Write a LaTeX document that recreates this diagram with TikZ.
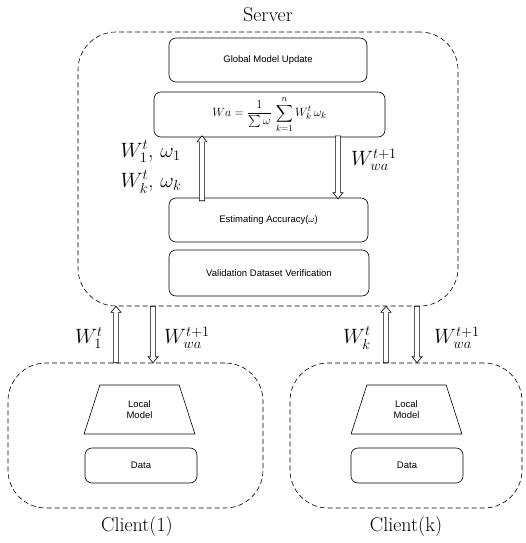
\documentclass[tikz,border=0pt]{standalone}
\usepackage{amsmath}
\usepackage{fontspec}
\setsansfont{Liberation Sans}
\usetikzlibrary{calc,shapes.geometric}
\tikzset{
  group/.style={draw, dash pattern=on 5pt off 3pt, rounded corners=38pt, line width=0.6pt, inner sep=0pt},
  box/.style={draw, rounded corners=7pt, line width=0.6pt, inner sep=0pt, align=center,
              font=\sffamily\fontsize{9.5}{11}\selectfont},
  trap/.style={draw, trapezium, trapezium left angle=74, trapezium right angle=74,
               trapezium stretches=true, line width=0.6pt, inner sep=0pt, align=center,
               font=\sffamily\fontsize{9.5}{11}\selectfont},
  hollow/.style={draw, fill=white, line width=0.6pt, line join=miter,
    to path={let \p1=(\tikztostart), \p2=(\tikztotarget), \n1={sign(\y2-\y1)} in
      (\x1-2.6pt,\y1) -- (\x1-2.6pt,{\y2-(\n1)*6pt}) -- (\x1-5pt,{\y2-(\n1)*6pt}) -- (\x1,\y2)
      -- (\x1+5pt,{\y2-(\n1)*6pt}) -- (\x1+2.6pt,{\y2-(\n1)*6pt}) -- (\x1+2.6pt,\y1) -- cycle}},
  lbl/.style={font=\fontsize{22}{24}\selectfont, inner sep=0pt, align=left},
  title/.style={font=\fontsize{20}{22}\selectfont, inner sep=0pt}
}
\begin{document}
\begin{tikzpicture}[x=1pt, y=-1pt]
\useasboundingbox (0,0) rectangle (526,543);
% groups
\node[group, minimum width=380pt, minimum height=274pt] (server) at (268,169) {};
\node[group, minimum width=255pt, minimum height=145pt] (client1) at (135.5,435.5) {};
\node[group, minimum width=232pt, minimum height=145pt] (clientk) at (406,435.5) {};
% titles
\node[title] (tserver) at (268,15) {Server};
\node[title] (tc1) at (137,527) {Client(1)};
\node[title] (tck) at (406,527) {Client(k)};
% server boxes
\node[box, minimum width=198pt, minimum height=44pt] (global) at (268,60) {Global Model Update};
\node[box, minimum width=231pt, minimum height=45pt, font=\fontsize{12.5}{14}\selectfont] (formula) at (269.5,114.5)
  {$Wa=\dfrac{1}{\sum\omega}\,\displaystyle\sum_{k=1}^{n}W_k^t\,\omega_k$};
\node[box, minimum width=199pt, minimum height=44pt] (est) at (268.5,220) {Estimating Accuracy($\omega$)};
\node[box, minimum width=200pt, minimum height=46pt] (valid) at (269,273) {Validation Dataset Verification};
% client boxes
\node[trap, minimum width=111pt, minimum height=49pt] (lm1) at (139.5,409.5) {Local\\Model};
\node[box, minimum width=112pt, minimum height=35pt] (data1) at (141,465.5) {Data};
\node[trap, minimum width=111pt, minimum height=49pt] (lmk) at (406.5,409.5) {Local\\Model};
\node[box, minimum width=112pt, minimum height=35pt] (datak) at (407,465.5) {Data};
% arrow axes
\coordinate (ax1) at (202,0);
\coordinate (ax2) at (338,0);
\coordinate (ax3) at (116,0);
\coordinate (ax4) at (153,0);
\coordinate (ax5) at (386,0);
\coordinate (ax6) at (417,0);
% arrows
\path[hollow] ([yshift=-3pt]est.north -| ax1) to ([yshift=1.5pt]formula.south -| ax1);
\path[hollow] ([yshift=1.5pt]formula.south -| ax2) to ([yshift=-1pt]est.north -| ax2);
\path[hollow] (client1.north -| ax3) to (server.south -| ax3);
\path[hollow] (server.south -| ax4) to (client1.north -| ax4);
\path[hollow] (clientk.north -| ax5) to (server.south -| ax5);
\path[hollow] (server.south -| ax6) to (clientk.north -| ax6);
% labels
\node[lbl] (l1) at (151,167) {$W_1^t$, $\omega_1$\\[6pt]$W_k^t$, $\omega_k$};
\node[lbl] (l2) at (374,160) {$W_{wa}^{t+1}$};
\node[lbl] (l3) at (89,338) {$W_1^t$};
\node[lbl] (l4) at (187,338) {$W_{wa}^{t+1}$};
\node[lbl] (l5) at (357,338) {$W_k^t$};
\node[lbl] (l6) at (457,338) {$W_{wa}^{t+1}$};
\end{tikzpicture}
\end{document}
